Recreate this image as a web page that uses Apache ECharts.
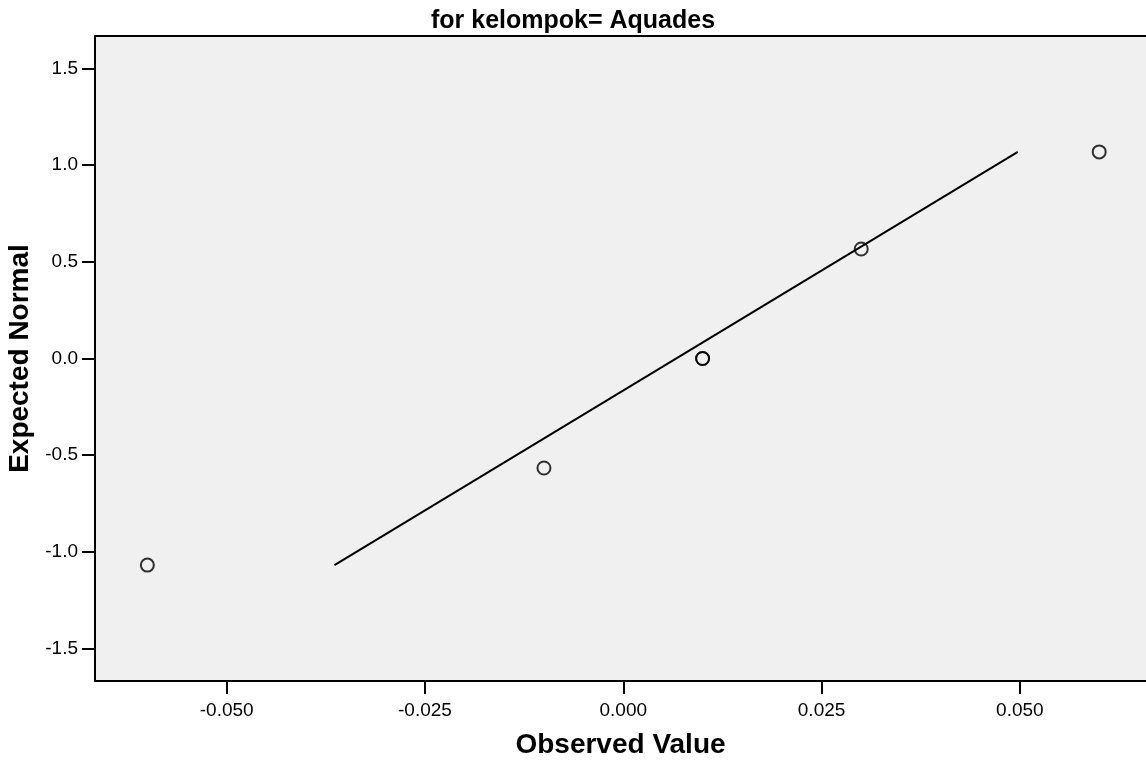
<!DOCTYPE html>
<html>
<head>
<meta charset="utf-8">
<script src="https://cdn.jsdelivr.net/npm/echarts@6/dist/echarts.min.js"></script>
<style>html,body{margin:0;padding:0;background:#fff}#c{width:1146px;height:763px}</style>
</head>
<body>
<div id="c"></div>
<script>
// Observed values (kelompok = Aquades) and their expected normal scores
var observed = [-0.06, -0.01, 0.01, 0.01, 0.03, 0.06];
var expectedNormal = [-1.068, -0.566, 0.0, 0.0, 0.566, 1.068];
var xTicks = [-0.050, -0.025, 0.000, 0.025, 0.050];
var yTicks = [-1.5, -1.0, -0.5, 0.0, 0.5, 1.0, 1.5];
var titleText = 'for kelompok= Aquades';

// Reference line: x = mean + z * sd, spanning the range of expected values
var n = observed.length;
var mean = observed.reduce(function(a,b){return a+b;},0)/n;
var sd = Math.sqrt(observed.reduce(function(a,b){return a+(b-mean)*(b-mean);},0)/(n-1));
var zMin = Math.min.apply(null, expectedNormal), zMax = Math.max.apply(null, expectedNormal);
var lineData = [[mean + zMin*sd, zMin], [mean + zMax*sd, zMax]];
var points = observed.map(function(v,i){return [v, expectedNormal[i]];});

var FONT = 'Liberation Sans';
var chart = echarts.init(document.getElementById('c'));
chart.setOption({
  backgroundColor: '#ffffff',
  animation: false,
  title: {
    text: titleText, left: 'center', top: 4,
    textStyle: {fontFamily: FONT, fontWeight: 'bold', fontSize: 25, color: '#000'}
  },
  grid: {left: 95, right: 0, top: 36, bottom: 82, show: true, backgroundColor: '#f0f0f0', borderWidth: 0,
    containLabel: false, outerBoundsMode: 'none'},
  xAxis: [{
    type: 'value', min: -0.0666, max: 0.0659,
    name: 'Observed Value', nameLocation: 'middle', nameGap: 50,
    nameTextStyle: {fontFamily: FONT, fontWeight: 'bold', fontSize: 28, color: '#000'},
    axisLine: {show: true, onZero: false, lineStyle: {color: '#000', width: 2}},
    axisTick: {show: true, length: 13, lineStyle: {color: '#000', width: 2}, customValues: xTicks},
    axisLabel: {customValues: xTicks, margin: 20, fontFamily: FONT, fontSize: 19, color: '#000',
      formatter: function(v){return v.toFixed(3);}},
    splitLine: {show: false}
  }, {
    type: 'value', position: 'top', min: -0.0666, max: 0.0659,
    axisLine: {show: true, onZero: false, lineStyle: {color: '#000', width: 2}},
    axisTick: {show: false}, axisLabel: {show: false}, splitLine: {show: false}
  }],
  yAxis: {
    type: 'value', min: -1.667, max: 1.667,
    name: 'Expected Normal', nameLocation: 'middle', nameGap: 55,
    nameTextStyle: {fontFamily: FONT, fontWeight: 'bold', fontSize: 28, color: '#000'},
    axisLine: {show: true, onZero: false, lineStyle: {color: '#000', width: 2}},
    axisTick: {show: true, length: 13, lineStyle: {color: '#000', width: 2}, customValues: yTicks},
    axisLabel: {customValues: yTicks, margin: 17, fontFamily: FONT, fontSize: 19, color: '#000',
      formatter: function(v){return v.toFixed(1);}},
    splitLine: {show: false}
  },
  series: [
    {type: 'line', data: lineData, symbol: 'none', lineStyle: {color: '#000', width: 2}, silent: true},
    {type: 'scatter', data: points, symbol: 'circle', symbolSize: 13,
      itemStyle: {color: 'rgba(0,0,0,0)', borderColor: '#000', borderWidth: 2}}
  ]
});
</script>
</body>
</html>
